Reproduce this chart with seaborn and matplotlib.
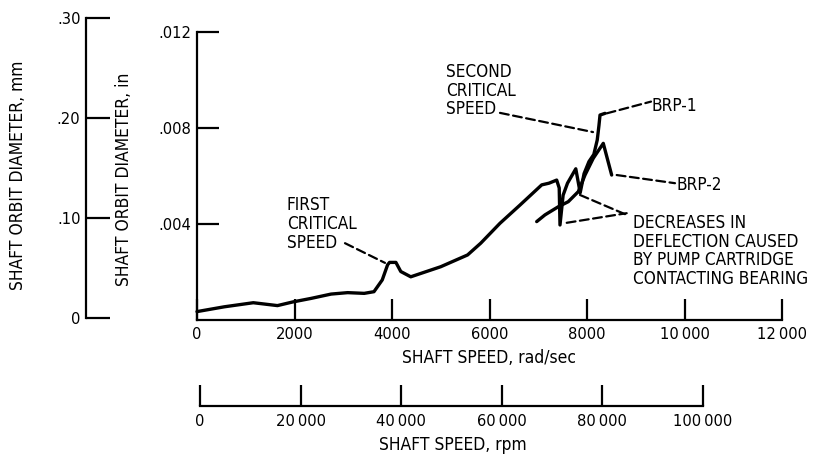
import matplotlib
matplotlib.use("Agg")
import matplotlib.pyplot as plt
import numpy as np
import pandas as pd
import seaborn as sns

# Shaft orbit diameter (in) against shaft speed (rad/sec)
brp1_speed = [0, 560, 1155, 1650, 1960, 2340, 2750, 3090, 3430, 3630, 3800, 3910,
              3950, 4080, 4180, 4385, 5000, 5550, 5820, 6215, 6626, 7071, 7220,
              7378, 7430, 7446, 7510, 7600, 7770, 7860, 7940, 8040, 8140, 8210,
              8245, 8267, 8369]
brp1_orbit = [0.00035, 0.00055, 0.00072, 0.00060, 0.00075, 0.00090, 0.00108,
              0.00114, 0.00111, 0.00118, 0.00167, 0.00230, 0.00240, 0.00240,
              0.00202, 0.00180, 0.00222, 0.00271, 0.00320, 0.00403, 0.00479,
              0.00563, 0.00570, 0.00583, 0.00550, 0.00396, 0.00520, 0.00570,
              0.00630, 0.00530, 0.00610, 0.00660, 0.00690, 0.00750, 0.00810,
              0.00854, 0.00861]

brp2_speed = [6968, 7138, 7412, 7616, 7822, 7959, 8129, 8334, 8506]
brp2_orbit = [0.00410, 0.00438, 0.00472, 0.00493, 0.00535, 0.00604, 0.00674,
              0.00736, 0.00604]

rad_ticks = [0, 2000, 4000, 6000, 8000, 10000, 12000]
rad_labels = ["0", "2000", "4000", "6000", "8000", "10\u2009000", "12\u2009000"]
in_ticks = [0.004, 0.008, 0.012]
in_labels = [".004", ".008", ".012"]
mm_ticks = [0.0, 0.10, 0.20, 0.30]
mm_labels = ["0", ".10", ".20", ".30"]
rpm_ticks = [0, 20000, 40000, 60000, 80000, 100000]
rpm_labels = ["0", "20\u2009000", "40\u2009000", "60\u2009000", "80\u2009000",
              "100\u2009000"]

curves = pd.concat([
    pd.DataFrame({"speed": brp1_speed, "orbit": brp1_orbit, "bearing": "BRP-1"}),
    pd.DataFrame({"speed": brp2_speed, "orbit": brp2_orbit, "bearing": "BRP-2"}),
])

sns.set_style("white")
plt.rcParams["font.family"] = ["DejaVu Sans"]
plt.rcParams["font.stretch"] = "condensed"
plt.rcParams["text.color"] = "black"
plt.rcParams["axes.labelcolor"] = "black"

W, H = 814, 459
fig = plt.figure(figsize=(W / 100, H / 100), dpi=100)


def box(left, top, right, bottom):
    return [left / W, 1 - bottom / H, (right - left) / W, (bottom - top) / H]


SPINE = 1.6
TICK_FS = 11.8
LABEL_FS = 12.5
NOTE_FS = 12.3

# main plot in rad/sec and inches
ax = fig.add_axes(box(197, 32, 782, 320))
sns.lineplot(data=curves, x="speed", y="orbit", units="bearing", estimator=None,
             sort=False, color="black", lw=2.4, ax=ax, legend=False)
for ln in ax.lines:
    ln.set_clip_on(False)
ax.set_xlim(0, 12000)
ax.set_ylim(0, 0.012)
ax.patch.set_visible(False)
for s in ("top", "right"):
    ax.spines[s].set_visible(False)
for s in ("left", "bottom"):
    ax.spines[s].set_linewidth(SPINE)
    ax.spines[s].set_color("black")
ax.set_xticks(rad_ticks)
ax.set_xticklabels(rad_labels)
ax.set_yticks(in_ticks)
ax.set_yticklabels(in_labels)
ax.tick_params(axis="x", bottom=True, direction="in", length=15, width=SPINE,
               pad=5, labelsize=TICK_FS, colors="black")
ax.tick_params(axis="y", left=True, direction="in", length=16, width=SPINE,
               pad=4, labelsize=TICK_FS, colors="black")
ax.set_xlabel("SHAFT SPEED, rad/sec", fontsize=LABEL_FS)
ax.xaxis.set_label_coords(489 / W, 1 - 349 / H, transform=fig.transFigure)
ax.set_ylabel("SHAFT ORBIT DIAMETER, in", fontsize=LABEL_FS)
ax.yaxis.set_label_coords(133 / W, 1 - 179 / H, transform=fig.transFigure)

# secondary orbit scale in millimetres
ax_mm = fig.add_axes(box(86, 18, 87, 318))
ax_mm.set_ylim(0, 0.30)
ax_mm.patch.set_visible(False)
ax_mm.xaxis.set_visible(False)
for s in ("top", "right", "bottom"):
    ax_mm.spines[s].set_visible(False)
ax_mm.spines["left"].set_linewidth(SPINE)
ax_mm.spines["left"].set_color("black")
ax_mm.set_yticks(mm_ticks)
ax_mm.set_yticklabels(mm_labels)
ax_mm.tick_params(axis="y", left=True, direction="in", length=17, width=SPINE,
                  pad=4, labelsize=TICK_FS, colors="black")
ax_mm.set_ylabel("SHAFT ORBIT DIAMETER, mm", fontsize=LABEL_FS)
ax_mm.yaxis.set_label_coords(27 / W, 1 - 175 / H, transform=fig.transFigure)

# secondary speed scale in rpm
ax_rpm = fig.add_axes(box(200, 380, 703, 406))
ax_rpm.set_xlim(0, 100000)
ax_rpm.patch.set_visible(False)
ax_rpm.yaxis.set_visible(False)
for s in ("top", "right", "left"):
    ax_rpm.spines[s].set_visible(False)
ax_rpm.spines["bottom"].set_linewidth(SPINE)
ax_rpm.spines["bottom"].set_color("black")
ax_rpm.set_xticks(rpm_ticks)
ax_rpm.set_xticklabels(rpm_labels)
ax_rpm.tick_params(axis="x", bottom=True, direction="in", length=15, width=SPINE,
                   pad=6, labelsize=TICK_FS, colors="black")
ax_rpm.set_xlabel("SHAFT SPEED, rpm", fontsize=LABEL_FS)
ax_rpm.xaxis.set_label_coords(453 / W, 1 - 436 / H, transform=fig.transFigure)

# callouts with dashed leaders
leader = dict(arrowstyle="-", linestyle=(0, (4, 2)), lw=1.6, color="black",
              shrinkA=0, shrinkB=0)


def leader_line(start, end):
    ax.annotate("", xy=end, xytext=start, arrowprops=leader, annotation_clip=False)


note = dict(fontsize=NOTE_FS, ha="left", va="center", linespacing=1.05)
ax.text(1846, 0.00400, "FIRST\nCRITICAL\nSPEED", **note)
leader_line((3036, 0.00320), (3856, 0.00238))

ax.text(5110, 0.00956, "SECOND\nCRITICAL\nSPEED", **note)
leader_line((6215, 0.00863), (8123, 0.00783))

ax.text(9333, 0.00892, "BRP-1", **note)
leader_line((8404, 0.00861), (9313, 0.00910))

ax.text(9846, 0.00563, "BRP-2", **note)
leader_line((8609, 0.00604), (9805, 0.00570))

ax.text(8950, 0.00288,
        "DECREASES IN\nDEFLECTION CAUSED\nBY PUMP CARTRIDGE\nCONTACTING BEARING",
        **note)
leader_line((7856, 0.00521), (8814, 0.00438))
leader_line((7584, 0.00405), (8814, 0.00445))

fig.savefig("out.png", dpi=100)
